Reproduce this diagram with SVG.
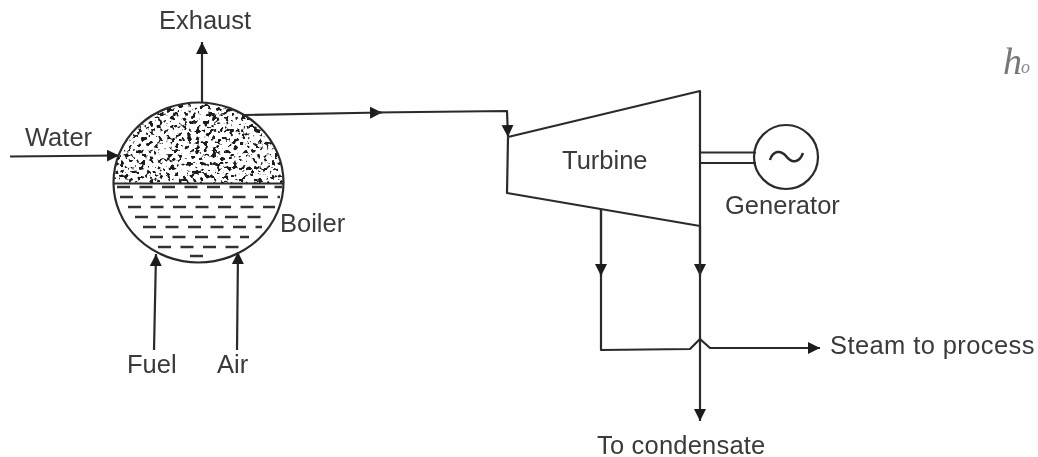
<svg xmlns="http://www.w3.org/2000/svg" width="1038" height="457" viewBox="0 0 1038 457">
<style>
text{font-family:"Liberation Sans",Arial,sans-serif;font-size:25.500px;fill:#3a3a3a}
.l{fill:none;stroke:#2b2b2b;stroke-width:2.2;stroke-linejoin:round}
.a{marker-end:url(#ah)}
.d{fill:none;stroke:#333;stroke-width:2.6;stroke-dasharray:13 9.5}
</style>
<defs>
<marker id="ah" markerUnits="userSpaceOnUse" markerWidth="14" markerHeight="14" refX="12" refY="6" orient="auto"><path d="M0,0L12,6L0,12Z" fill="#1e1e1e"/></marker>
<clipPath id="top"><path d="M113.500,183A85,80 0 0 1 283.500,183Z"/></clipPath>
<filter id="speck" x="0" y="0" width="100%" height="100%" color-interpolation-filters="sRGB">
<feTurbulence type="fractalNoise" baseFrequency="0.24" numOctaves="2" seed="7"/>
<feColorMatrix type="matrix" values="0 0 0 0 0.1  0 0 0 0 0.1  0 0 0 0 0.1  9 -9 0 0 -0.6"/>
<feGaussianBlur stdDeviation="0.4"/>
</filter>
<filter id="soft" x="-2%" y="-2%" width="104%" height="104%"><feGaussianBlur stdDeviation="0.45"/></filter>
</defs>
<rect width="1038" height="457" fill="#fefefe"/>
<g filter="url(#soft)">
<g id="connectors">
<path class="l a" d="M202,103V42"/>
<path class="l a" d="M10,156.500L119,155.500"/>
<path class="l a" d="M154,350L156,254"/>
<path class="l a" d="M237,350L238,252"/>
<path class="l a" d="M245,115L382,112.500"/>
<path class="l a" d="M375,112.500L507,111L508,137"/>
<path class="l" d="M601,209V350L690,349L700,339L710,348H820"/>
<path class="l a" d="M601,209V276"/>
<path class="l a" d="M700,226V276"/>
<path class="l" d="M700,226V339"/>
<path class="l a" d="M700,339V421"/>
<path class="l a" d="M780,348H820"/>
<path class="l" d="M700,152.500H756M700,163H756"/>
</g>
<g id="boiler">
<rect x="113" y="103" width="171" height="80" filter="url(#speck)" clip-path="url(#top)"/>
<ellipse class="l" cx="198.500" cy="182.500" rx="85" ry="80"/>
<path class="l" d="M113.500,183.500H283.500"/>
<path class="d" d="M117,187H282M120,197H280M128,207H275M135,217H267M143,227H262M150,237H249M158,247H240M190,256H204"/>
<text x="280" y="232">Boiler</text>
</g>
<g id="turbine">
<path class="l" d="M508,137L700,91V226L507,193Z"/>
<text x="562" y="169">Turbine</text>
</g>
<g id="generator">
<circle class="l" cx="786" cy="157" r="32"/>
<path class="l" style="stroke-width:2.500" d="M770,160C773,150 781,150 786,156C791,163 799,164 803,153"/>
<text x="725" y="214">Generator</text>
</g>
<g id="labels">
<text x="159" y="29">Exhaust</text>
<text x="25" y="146">Water</text>
<text x="127" y="373">Fuel</text>
<text x="217" y="373">Air</text>
<text x="830" y="354" style="letter-spacing:0.400px">Steam to process</text>
<text x="597" y="454" style="letter-spacing:0.200px">To condensate</text>
<text x="1003" y="74" style="font-family:'Liberation Serif',serif;font-style:italic;font-size:38px;fill:#777">h</text>
<text x="1021" y="73" style="font-family:'Liberation Serif',serif;font-style:italic;font-size:18px;fill:#888">o</text>
</g>
</g>
</svg>
